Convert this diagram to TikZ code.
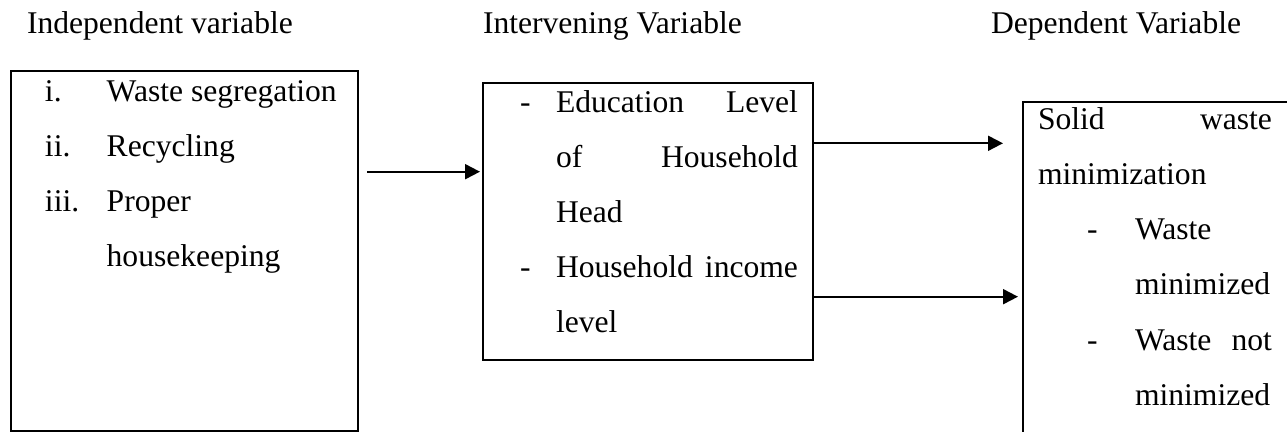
\documentclass[tikz,border=0pt]{standalone}
\usepackage{fontspec}
\setmainfont{Liberation Serif}
\usetikzlibrary{arrows.meta}
\newcommand\myfs{\fontsize{15.8pt}{19pt}\selectfont}
\tikzset{
  txt/.style={anchor=base west, inner sep=0pt, outer sep=0pt, font=\myfs},
  boxstyle/.style={draw, line width=1.1pt, anchor=north west, inner sep=0pt, outer sep=0pt},
  arr/.style={line width=1pt, -{Triangle[length=7.5pt, width=7.5pt]}}
}
\begin{document}
\begin{tikzpicture}[x=0.5pt, y=-0.5pt]
\useasboundingbox (0,0) rectangle (1287,432);
\clip (0,0) rectangle (1287,432);
% titles
\node[txt] (t1) at (27,34) {Independent variable};
\node[txt] (t2) at (483,34) {Intervening Variable};
\node[txt] (t3) at (991,34) {Dependent Variable};
% boxes
\node[boxstyle, minimum width=173.5pt, minimum height=180pt] (ind) at (11,71) {};
\node[boxstyle, minimum width=165pt, minimum height=138.5pt] (int) at (483,83) {};
\node[boxstyle, minimum width=160pt, minimum height=190pt] (dep) at (1023,101.7) {};
% left box text
\node[txt] (l1) at (45,101.7) {i.};
\node[txt] (w1) at (106.7,101.7) {Waste segregation};
\node[txt] (l2) at (45,156.7) {ii.};
\node[txt] (w2) at (106.7,156.7) {Recycling};
\node[txt] (l3) at (45,211.7) {iii.};
\node[txt] (w3) at (106.7,211.7) {Proper};
\node[txt] (w4) at (106.7,266.7) {housekeeping};
% middle box text
\node[txt] (d1) at (520,112.5) {-};
\node[txt] (m1) at (556,112.5) {\hbox to 121pt{Education\hfill Level}};
\node[txt] (m2) at (556,167.5) {\hbox to 121pt{of\hfill Household}};
\node[txt] (m3) at (556,222.5) {Head};
\node[txt] (d2) at (520,277.5) {-};
\node[txt] (m4) at (556,277.5) {\hbox to 121pt{Household\hfill income}};
\node[txt] (m5) at (556,332.5) {level};
% right box text
\node[txt] (r1) at (1038,129.5) {\hbox to 117pt{Solid\hfill waste}};
\node[txt] (r2) at (1038,185) {minimization};
\node[txt] (d3) at (1087,240) {-};
\node[txt] (r3) at (1135,240) {Waste};
\node[txt] (r4) at (1135,295) {minimized};
\node[txt] (d4) at (1087,350.5) {-};
\node[txt] (r5) at (1135,350.5) {\hbox to 68.5pt{Waste\hfill not}};
\node[txt] (r6) at (1135,406) {minimized};
% arrows
\coordinate (ya) at (0,171.7);
\coordinate (yb) at (0,143.3);
\coordinate (yc) at (0,296.7);
\draw[arr, shorten <=4.5pt, shorten >=1.5pt] (ind.east |- ya) -- (int.west |- ya);
\draw[arr, shorten >=10pt] (int.east |- yb) -- (dep.west |- yb);
\draw[arr, shorten >=2.5pt] (int.east |- yc) -- (dep.west |- yc);
\end{tikzpicture}
\end{document}
